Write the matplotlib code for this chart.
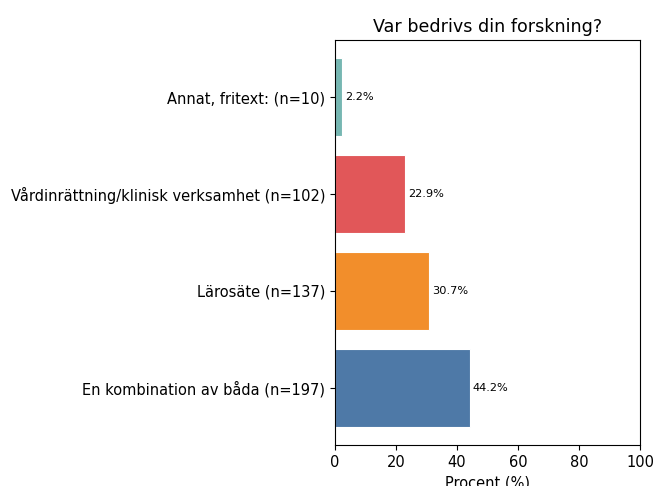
import matplotlib.pyplot as plt

categories = ["En kombination av båda (n=197)", "Lärosäte (n=137)",
              "Vårdinrättning/klinisk verksamhet (n=102)", "Annat, fritext: (n=10)"]
percent = [44.2, 30.7, 22.9, 2.2]
colors = ["#4e79a7", "#f28e2b", "#e15759", "#76b7b2"]

fig = plt.figure(figsize=(6.53, 4.86), dpi=100)
ax = fig.add_axes([0.513, 0.084, 0.467, 0.834])

bars = ax.barh(categories, percent, color=colors, edgecolor="white", linewidth=0.8)
for bar, p in zip(bars, percent):
    ax.text(bar.get_width() + 1, bar.get_y() + bar.get_height() / 2, f"{p}%",
            va="center", ha="left", fontsize=8.2)

ax.set_xlim(0, 100)
ax.tick_params(labelsize=10.5)
ax.set_xlabel("Procent (%)", fontsize=10.5)
ax.set_title("Var bedrivs din forskning?", fontsize=12.6)

fig.savefig("out.png", dpi=100)
